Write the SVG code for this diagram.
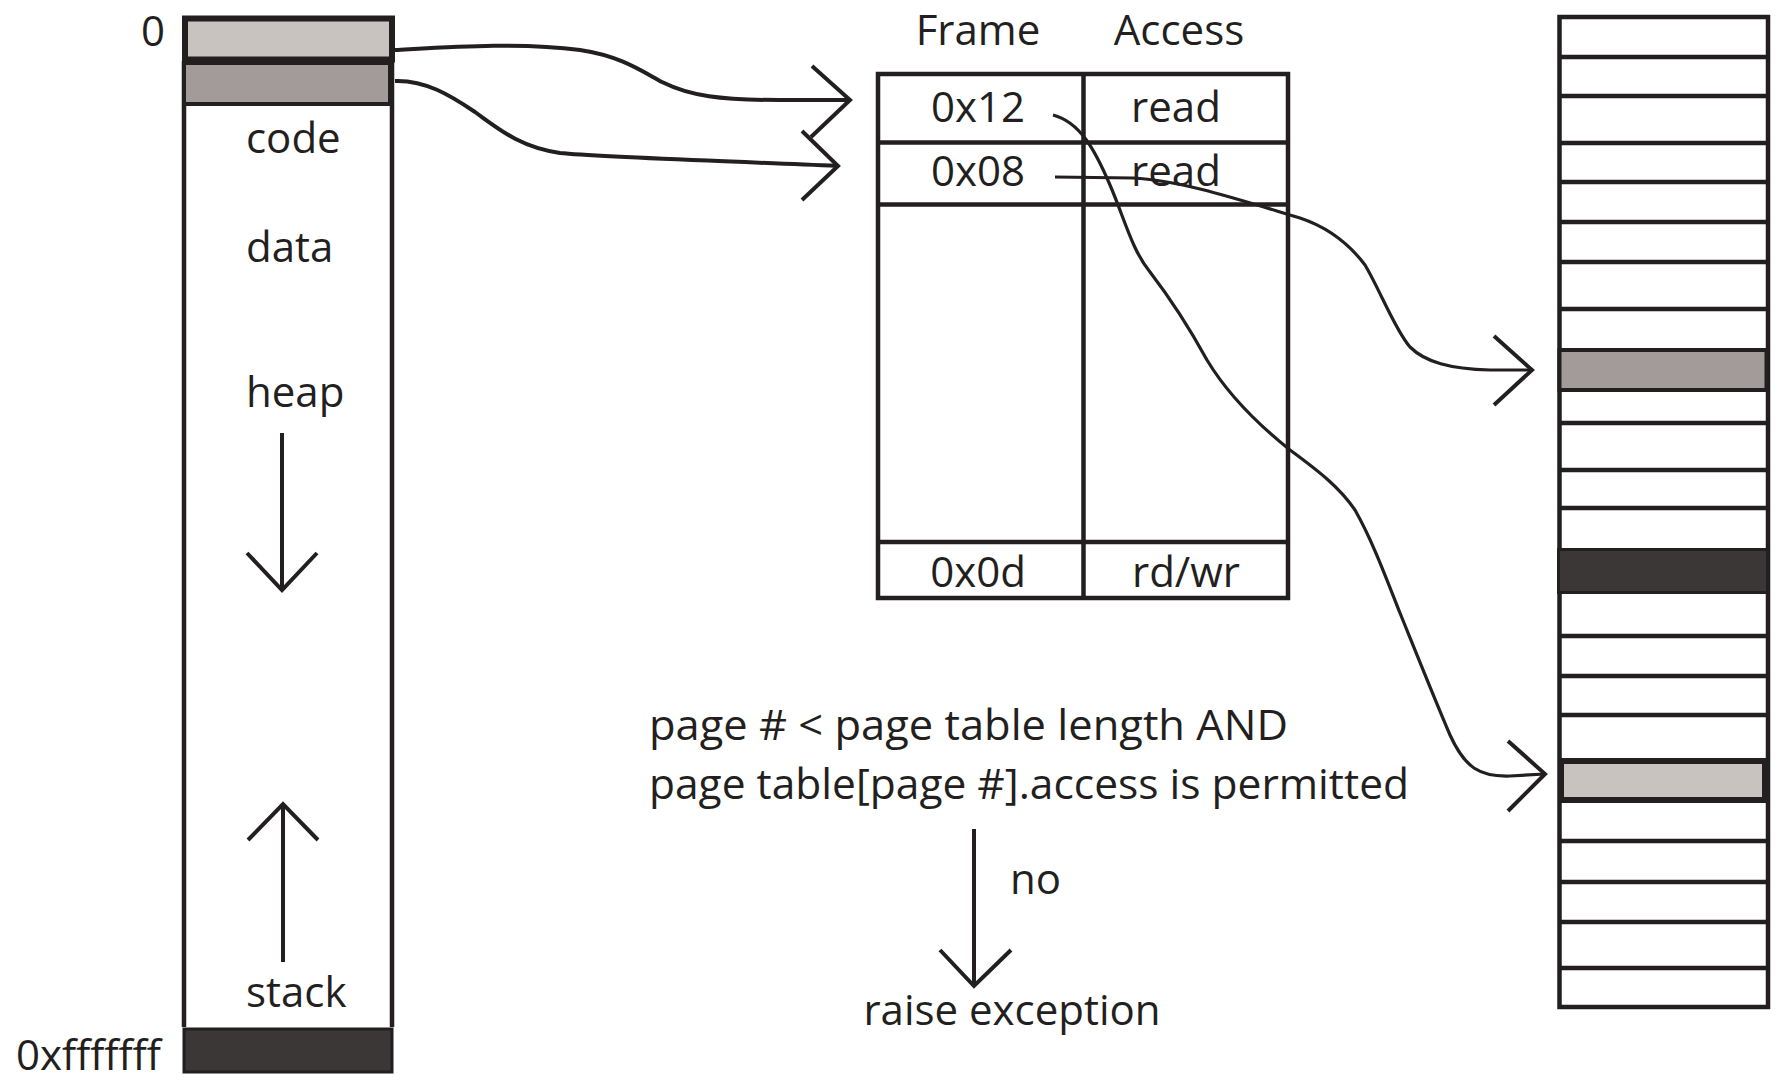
<svg xmlns="http://www.w3.org/2000/svg" width="1786" height="1086" viewBox="0 0 1786 1086">
  <style>
    text { font-family: "Open Sans", "Noto Sans", "Liberation Sans", sans-serif; font-size: 42px; fill: #231f20; }
    .mid { text-anchor: middle; }
    .ln { fill: none; stroke: #231f20; stroke-width: 4.5; }
    .cell { fill: #ffffff; stroke: #231f20; stroke-width: 4.5; }
    .wire { fill: none; stroke: #231f20; stroke-width: 4; stroke-linejoin: miter; }
    .thin { fill: none; stroke: #231f20; stroke-width: 3.2; }
    .light { fill: #c9c3c0; stroke: #231f20; stroke-width: 6; }
    .medium { fill: #a39a9a; stroke: #231f20; stroke-width: 4; }
    .dark { fill: #3b3737; stroke: #231f20; stroke-width: 3; }
  </style>

  <rect width="1786" height="1086" fill="#ffffff"/>

  <!-- virtual address space -->
  <g id="virtual-memory">
    <line class="ln" x1="184" y1="61" x2="184" y2="1027"/>
    <line class="ln" x1="392" y1="61" x2="392" y2="1027"/>
    <rect class="light" x="185" y="18.5" width="207" height="41"/>
    <rect class="medium" x="184" y="63" width="206" height="41"/>
    <rect class="dark" x="184" y="1029" width="208" height="43"/>
    <text x="165" y="46" style="text-anchor:end">0</text>
    <text x="16" y="1070">0xfffffff</text>
    <text x="246" y="153">code</text>
    <text x="246" y="262">data</text>
    <text x="246" y="407">heap</text>
    <text x="246" y="1007">stack</text>
    <!-- heap grows down -->
    <path class="wire" d="M282,433 V590 M247,553 L282,590 L317,553"/>
    <!-- stack grows up -->
    <path class="wire" d="M283,962 V804 M248,840 L283,804 L318,840"/>
  </g>

  <!-- page table -->
  <g id="page-table">
    <text x="978" y="45" class="mid">Frame</text>
    <text x="1179" y="45" class="mid">Access</text>
    <rect class="cell" x="878" y="74" width="410" height="524"/>
    <line class="ln" x1="878" y1="142.5" x2="1288" y2="142.5"/>
    <line class="ln" x1="878" y1="204.5" x2="1288" y2="204.5"/>
    <line class="ln" x1="878" y1="542" x2="1288" y2="542"/>
    <line class="ln" x1="1083.5" y1="74" x2="1083.5" y2="598"/>
    <text x="978" y="122" class="mid">0x12</text>
    <text x="1176" y="122" class="mid">read</text>
    <text x="978" y="186" class="mid">0x08</text>
    <text x="1176" y="186" class="mid">read</text>
    <text x="978" y="587" class="mid">0x0d</text>
    <text x="1186" y="587" class="mid">rd/wr</text>
  </g>

  <!-- physical memory frames -->
  <g id="physical-memory">
    <rect class="cell" x="1559.5" y="17" width="208.5" height="990"/>
    <path class="ln" d="M1560,57 H1768 M1560,96 H1768 M1560,143 H1768 M1560,182 H1768 M1560,222 H1768 M1560,262 H1768 M1560,309 H1768 M1560,423 H1768 M1560,470 H1768 M1560,508 H1768 M1560,636 H1768 M1560,676 H1768 M1560,715 H1768 M1560,841 H1768 M1560,882 H1768 M1560,922 H1768 M1560,968 H1768"/>
    <rect class="medium" x="1559.5" y="350" width="207" height="40"/>
    <rect class="dark" x="1558.5" y="549.5" width="209" height="43"/>
    <rect class="light" x="1561" y="761" width="204" height="39"/>
  </g>

  <!-- protection check -->
  <g id="check">
    <text x="649" y="740" textLength="639" lengthAdjust="spacingAndGlyphs">page # &lt; page table length AND</text>
    <text x="649" y="799" textLength="760" lengthAdjust="spacingAndGlyphs">page table[page #].access is permitted</text>
    <text x="1010" y="894">no</text>
    <text x="1012" y="1025" class="mid">raise exception</text>
  </g>

  <!-- connectors -->
  <g id="connectors">
    <!-- segment 0 -> page table row 0 -->
    <path class="wire" d="M395,50 C450,47 520,42 580,50 C620,56 640,70 662,82 C690,96 720,100 780,100 L850,100"/>
    <path class="wire" d="M812,66 L850,100 L811,137"/>
    <!-- segment 1 -> page table row 1 -->
    <path class="wire" d="M395,81 C425,80 450,95 475,112 C500,130 520,147 560,153 C600,157 700,160 838,166"/>
    <path class="wire" d="M802,131 L838,166 L802,200"/>
    <!-- frame 0x08 -> physical frame -->
    <path class="thin" d="M1055,177 L1133,178 C1180,180 1240,200 1300,218 C1330,228 1350,245 1365,265 C1380,290 1395,330 1410,347 C1425,362 1450,369 1490,370 L1532,370"/>
    <path class="wire" d="M1494,336 L1532,370 L1494,405"/>
    <!-- frame 0x12 -> physical frame -->
    <path class="thin" d="M1053,115 C1080,122 1095,150 1110,185 C1125,220 1132,250 1150,272 C1170,298 1185,320 1207,360 C1225,390 1255,422 1290,450 C1320,472 1340,488 1355,510 C1372,540 1385,575 1400,613 C1415,650 1435,700 1450,735 C1465,768 1480,777 1510,776 L1545,774"/>
    <path class="wire" d="M1508,741 L1545,774 L1508,811"/>
    <!-- check fails -->
    <path class="wire" d="M974,829 V986 M940,950 L974,986 L1011,950"/>
  </g>
</svg>
